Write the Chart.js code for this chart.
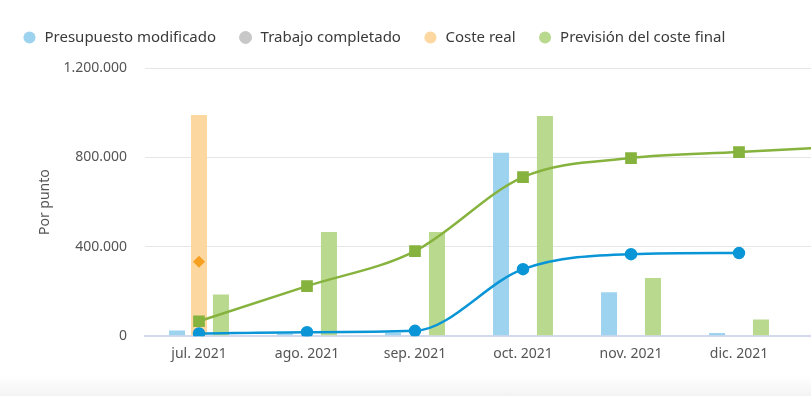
<!DOCTYPE html>
<html>
<head>
<meta charset="utf-8">
<script src="https://cdn.jsdelivr.net/npm/chart.js@4.4.1/dist/chart.umd.min.js"></script>
<style>
  html, body { margin: 0; padding: 0; width: 811px; height: 396px; overflow: hidden; background: #fff; }
  #wrap { position: relative; width: 911px; height: 396px; }
  #shade { position: absolute; left: 0; top: 376px; width: 811px; height: 20px;
           background: linear-gradient(#ffffff, #f3f3f3); }
</style>
</head>
<body>
<div id="wrap">
  <canvas id="chart" width="911" height="396"></canvas>
  <div id="shade"></div>
</div>
<script>
const months = ["jul. 2021", "ago. 2021", "sep. 2021", "oct. 2021", "nov. 2021", "dic. 2021", "ene. 2022"];

// bars
const presupuestoBars = [25000, 12000, 15000, 821000, 197000, 14000, null];
const trabajoCompletado = [];
const costeRealBars = [990000, null, null, null, null, null, null];
const previsionBars = [187000, 466000, 466000, 985000, 260000, 75000, null];

// lines
const presupuestoLine = [12000, 18000, 24000, 300000, 367000, 372000, null];
const costeRealLine = [333000, null, null, null, null, null, null];
const previsionLine = [67000, 224000, 381000, 712000, 797000, 824000, 850000];

const yTicks = [0, 400000, 800000, 1200000];

const fmtTick = v => String(v).replace(/\B(?=(\d{3})+(?!\d))/g, ".");

const FONT = "'Noto Sans', sans-serif";

// a little space under the legend
const legendGap = {
  id: "legendGap",
  beforeInit(chart) {
    const fit = chart.legend.fit;
    chart.legend.fit = function () {
      fit.bind(chart.legend)();
      this.height += 13;
    };
  }
};

new Chart(document.getElementById("chart"), {
  data: {
    labels: months,
    datasets: [
      {
        type: "bar", label: "Presupuesto modificado", data: presupuestoBars,
        backgroundColor: "#9dd3ef", borderWidth: 0, order: 2,
        barPercentage: 0.73, categoryPercentage: 0.61
      },
      {
        type: "line", label: "Trabajo completado", data: trabajoCompletado,
        backgroundColor: "#c8c8c8", borderColor: "#c8c8c8", order: 2
      },
      {
        type: "bar", label: "Coste real", data: costeRealBars,
        backgroundColor: "#fdd7a0", borderWidth: 0, order: 2,
        barPercentage: 0.73, categoryPercentage: 0.61
      },
      {
        type: "bar", label: "Previsión del coste final", data: previsionBars,
        backgroundColor: "#b9d98f", borderWidth: 0, order: 2,
        barPercentage: 0.73, categoryPercentage: 0.61
      },
      {
        type: "line", label: "presupuesto acumulado", data: presupuestoLine, hideLegend: true,
        borderColor: "#0a96d6", backgroundColor: "#0a96d6", borderWidth: 2.5,
        pointRadius: 5, pointStyle: "circle", cubicInterpolationMode: "monotone", order: 0
      },
      {
        type: "line", label: "coste acumulado", data: costeRealLine, hideLegend: true,
        borderColor: "#f5a020", backgroundColor: "#f5a020", borderWidth: 1,
        pointRadius: 5.5, pointStyle: "rectRot", order: 0
      },
      {
        type: "line", label: "previsión acumulada", data: previsionLine, hideLegend: true,
        borderColor: "#86b23e", backgroundColor: "#86b23e", borderWidth: 2.5,
        pointRadius: 6.5, pointStyle: "rect", cubicInterpolationMode: "monotone", order: 0
      }
    ]
  },
  options: {
    responsive: false,
    devicePixelRatio: 1,
    animation: false,
    layout: { padding: { left: 0, right: 10, top: 8, bottom: 33 } },
    plugins: {
      tooltip: { enabled: false },
      legend: {
        display: true,
        position: "top",
        align: "start",
        labels: {
          usePointStyle: true,
          pointStyle: "circle",
          boxHeight: 8.5,
          padding: 22,
          color: "#3a3a3a",
          font: { family: FONT, size: 15 },
          filter: (item, data) => !data.datasets[item.datasetIndex].hideLegend
        }
      }
    },
    scales: {
      x: {
        grid: { display: false },
        border: { display: true, color: "#d3d9ec", width: 2 },
        ticks: {
          color: "#555",
          padding: 1,
          font: { family: FONT, size: 14 },
          maxRotation: 0
        }
      },
      y: {
        min: 0,
        max: 1200000,
        afterBuildTicks: scale => { scale.ticks = yTicks.map(v => ({ value: v })); },
        afterFit: scale => { scale.width = 145; },
        grid: {
          drawTicks: false,
          color: ctx => ctx.tick && ctx.tick.value === 0 ? "#d3d9ec" : "#e6e6e6",
          lineWidth: ctx => ctx.tick && ctx.tick.value === 0 ? 2 : 1
        },
        border: { display: false },
        ticks: {
          color: "#555",
          padding: 18,
          font: { family: FONT, size: 14 },
          callback: v => fmtTick(v)
        },
        title: {
          display: true,
          text: "Por punto",
          color: "#555",
          padding: { top: 37, bottom: 8 },
          font: { family: FONT, size: 14 }
        }
      }
    }
  },
  plugins: [legendGap]
});
</script>
</body>
</html>
